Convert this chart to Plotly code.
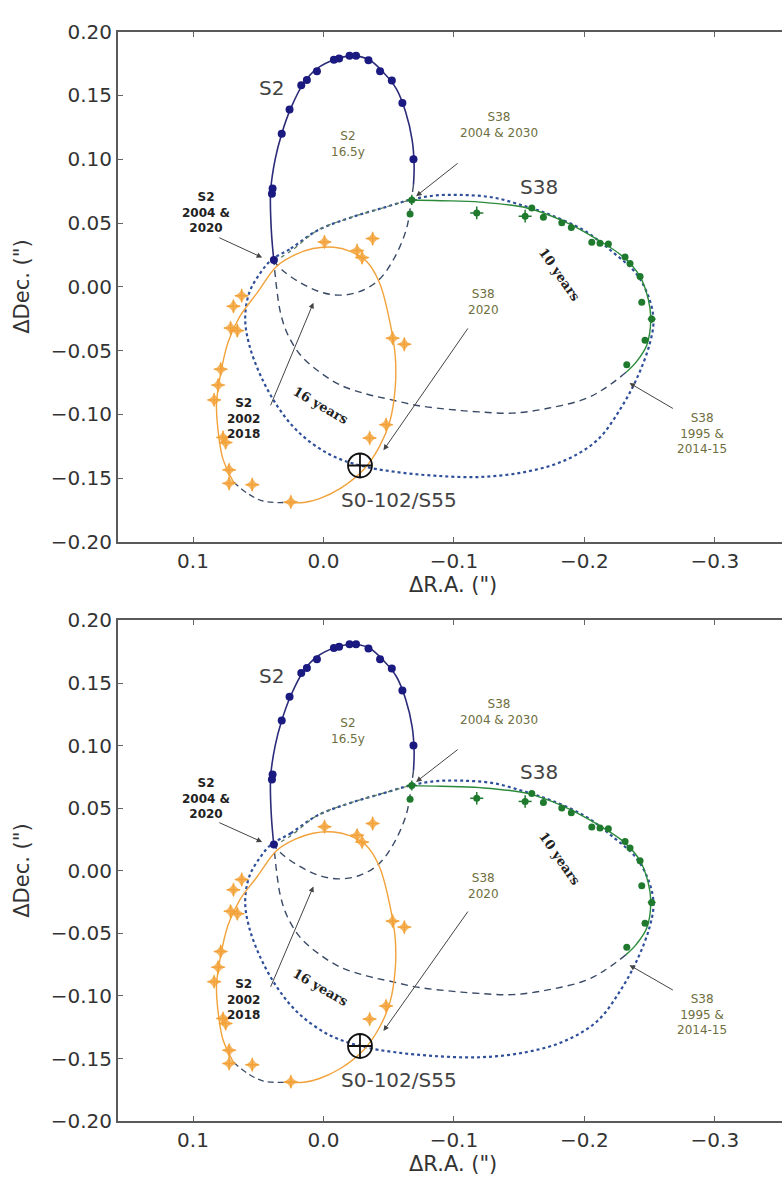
import plotly.graph_objects as go

# ---------------- data (offsets in arcsec) ----------------
# S2 observations (blue dots)
s2_obs_ra = [0.038, 0.0395, 0.039, 0.032, 0.026, 0.017, 0.0127, 0.005, -0.008, -0.012,
             -0.020, -0.025, -0.0345, -0.0434, -0.0524, -0.0605, -0.069]
s2_obs_dec = [0.021, 0.073, 0.077, 0.120, 0.139, 0.158, 0.162, 0.169, 0.178, 0.179,
              0.181, 0.181, 0.1775, 0.169, 0.1616, 0.144, 0.100]
# S2 orbit, solid (upper) part
s2_solid_ra = [0.038, 0.040, 0.0405, 0.037, 0.032, 0.025, 0.015, 0.005, -0.008, -0.022,
               -0.035, -0.046, -0.056, -0.063, -0.068, -0.0695, -0.069]
s2_solid_dec = [0.020, 0.045, 0.075, 0.100, 0.120, 0.140, 0.160, 0.171, 0.178, 0.181,
                0.178, 0.168, 0.155, 0.137, 0.115, 0.095, 0.080]
# S2 orbit, dashed (lower) part
s2_dash_ra = [-0.069, -0.067, -0.0635, -0.054, -0.042, -0.027, -0.0115, 0.004, 0.019, 0.031, 0.038]
s2_dash_dec = [0.080, 0.065, 0.045, 0.022, 0.005, -0.004, -0.0065, -0.0035, 0.004, 0.0126, 0.020]

# S38 observations (green)
s38_obs_ra = [-0.0677, -0.0664, -0.1175, -0.1546, -0.1597, -0.1686, -0.1827, -0.190, -0.2057,
              -0.212, -0.2184, -0.2312, -0.235, -0.2427, -0.244, -0.2516, -0.2465, -0.2325]
s38_obs_dec = [0.0681, 0.0571, 0.0579, 0.0554, 0.0617, 0.0546, 0.0502, 0.0464, 0.0349,
               0.0341, 0.0336, 0.0233, 0.0182, 0.0080, -0.012, -0.0253, -0.0419, -0.0611]
s38_obs_err = [0.004, 0.0015, 0.005, 0.005, 0.002, 0.0015, 0.0015, 0.002, 0.002,
               0.002, 0.002, 0.002, 0.002, 0.002, 0.0015, 0.003, 0.0015, 0.0015]
# S38 orbit, solid part
s38_solid_ra = [-0.066, -0.090, -0.120, -0.156, -0.184, -0.2095, -0.230, -0.2427, -0.249,
                -0.2509, -0.2478, -0.240, -0.232]
s38_solid_dec = [0.068, 0.0675, 0.0664, 0.0618, 0.0515, 0.0374, 0.0233, 0.008, -0.0099,
                 -0.0253, -0.0458, -0.0586, -0.067]
# S38 orbit, dashed part (lower arc)
s38_dash_ra = [-0.232, -0.215, -0.200, -0.173, -0.145, -0.119, -0.096, -0.072, -0.050,
               -0.033, -0.013, 0.004, 0.018, 0.028, 0.033, 0.036, 0.038]
s38_dash_dec = [-0.067, -0.080, -0.088, -0.095, -0.099, -0.098, -0.096, -0.093, -0.088,
                -0.084, -0.077, -0.066, -0.053, -0.036, -0.020, 0.000, 0.020]
# S38 orbit, dashed part (upper link)
s38_link_ra = [0.038, 0.025, 0.005, -0.020, -0.046, -0.066]
s38_link_dec = [0.020, 0.028, 0.044, 0.054, 0.062, 0.068]

# Orange star observations
s55_obs_ra = [-0.0008, -0.0258, -0.0296, -0.0377, 0.0627, 0.069, 0.0712, 0.066, 0.0788,
              0.0808, 0.0838, 0.077, 0.075, 0.0723, 0.0723, 0.0546, 0.025, -0.0354,
              -0.048, -0.053, -0.062]
s55_obs_dec = [0.0352, 0.0284, 0.0229, 0.0378, -0.007, -0.0152, -0.0323, -0.0343, -0.0645,
               -0.077, -0.0886, -0.118, -0.122, -0.1434, -0.154, -0.155, -0.1686, -0.1185,
               -0.108, -0.0402, -0.045]
# Orange orbit, solid part
s55_solid_ra = [0.030, 0.015, 0.003, -0.013, -0.031, -0.043, -0.051, -0.055, -0.055, -0.051,
                -0.043, -0.033, -0.020, -0.008, 0.008, 0.022, 0.036, 0.051, 0.064, 0.073,
                0.079, 0.082, 0.0805, 0.077, 0.069]
s55_solid_dec = [-0.169, -0.169, -0.166, -0.158, -0.143, -0.125, -0.105, -0.079, -0.054,
                 -0.028, 0.003, 0.020, 0.028, 0.031, 0.030, 0.025, 0.016, -0.005, -0.023,
                 -0.043, -0.069, -0.092, -0.115, -0.135, -0.153]
# Orange orbit, dashed part
s55_dash_ra = [0.069, 0.058, 0.046, 0.030]
s55_dash_dec = [-0.153, -0.162, -0.168, -0.169]

# Blue dotted orbit
dot_ra = [0.040, 0.025, 0.005, -0.020, -0.046, -0.066, -0.085, -0.105, -0.130, -0.155, -0.175,
          -0.200, -0.222, -0.240, -0.250, -0.253, -0.250, -0.241, -0.228, -0.210, -0.185,
          -0.155, -0.120, -0.085, -0.055, -0.028, -0.004, 0.019, 0.035, 0.048, 0.057,
          0.060, 0.057, 0.049, 0.040]
dot_dec = [0.021, 0.030, 0.044, 0.054, 0.062, 0.068, 0.0715, 0.072, 0.070, 0.063, 0.056,
           0.044, 0.027, 0.010, -0.010, -0.027, -0.045, -0.070, -0.095, -0.120, -0.136,
           -0.145, -0.149, -0.148, -0.145, -0.140, -0.131, -0.114, -0.094, -0.070, -0.045,
           -0.025, -0.005, 0.010, 0.021]

# Position of S0-102/S55 marker
cross_ra = [-0.028]
cross_dec = [-0.140]

# Text labels
label_text = ["S2", "S38", "S0-102/S55", "S2<br>16.5y", "S38<br>2004 & 2030",
              "<b>S2<br>2004 &<br>2020</b>", "S38<br>2020", "<b>S2<br>2002<br>2018</b>",
              "S38<br>1995 &<br>2014-15", "<b>10 years</b>", "<b>16 years</b>"]
label_ra = [0.0400, -0.165, -0.058, -0.019, -0.1346, 0.090, -0.123, 0.0615, -0.290, -0.181, 0.002]
label_dec = [0.156, 0.0786, -0.167, 0.112, 0.127, 0.058, -0.012, -0.103, -0.115, 0.0097, -0.093]
label_size = [20, 20, 20, 12, 12, 12, 12, 12, 12, 13, 13]
label_color = ["#444444", "#444444", "#444444", "#6e6e40", "#6e6e40", "#222222", "#6e6e40",
               "#222222", "#6e6e40", "#222222", "#222222"]
label_angle = [0, 0, 0, 0, 0, 0, 0, 0, 0, 55, 30]
label_font = ["DejaVu Sans"] * 9 + ["DejaVu Serif", "DejaVu Serif"]

# Arrows: head (ra, dec) and tail (ra, dec)
arrow_head_ra = [-0.071, 0.047, -0.046, 0.0077, -0.2346]
arrow_head_dec = [0.071, 0.023, -0.128, -0.0125, -0.0754]
arrow_tail_ra = [-0.104, 0.081, -0.1115, 0.041, -0.269]
arrow_tail_dec = [0.0977, 0.039, -0.0314, -0.094, -0.096]

# Axis ticks
x_ticks = [0.1, 0.0, -0.1, -0.2, -0.3]
x_tick_text = ["0.1", "0.0", "\u22120.1", "\u22120.2", "\u22120.3"]
y_ticks = [0.20, 0.15, 0.10, 0.05, 0.0, -0.05, -0.10, -0.15, -0.20]
y_tick_text = ["0.20", "0.15", "0.10", "0.05", "0.00", "\u22120.05", "\u22120.10",
               "\u22120.15", "\u22120.20"]

# ---------------- layout geometry (pixels) ----------------
W, H = 782, 1186
PLOT_LEFT = 118
panels_px = [(20, 541), (621, 1132)]  # (top, bottom) of each panel
X_RANGE = [0.1575, -0.3515]
Y_RANGE = [-0.2, 0.2]

S2_COL = "#1a1a80"
S38_COL = "#2a8a3a"
ORANGE = "#f2a23a"
DASH_COL = "#3a4a66"
DOT_COL = "#2f4f9a"

fig = go.Figure()
annotations = []
FONT = "DejaVu Sans"

for i, (top, bot) in enumerate(panels_px):
    xa = "x" if i == 0 else "x2"
    ya = "y" if i == 0 else "y2"
    common = dict(xaxis=xa, yaxis=ya, showlegend=False, hoverinfo="skip")

    # orbits
    fig.add_trace(go.Scatter(x=dot_ra, y=dot_dec, mode="lines",
                             line=dict(color=DOT_COL, width=2.2, dash="dot", shape="spline", smoothing=1),
                             **common))
    fig.add_trace(go.Scatter(x=s38_dash_ra, y=s38_dash_dec, mode="lines",
                             line=dict(color=DASH_COL, width=1.4, dash="7px,5px", shape="spline", smoothing=1),
                             **common))
    fig.add_trace(go.Scatter(x=s38_link_ra, y=s38_link_dec, mode="lines",
                             line=dict(color="#5a7a5a", width=1.2, dash="4px,4px", shape="spline", smoothing=1),
                             **common))
    fig.add_trace(go.Scatter(x=s2_dash_ra, y=s2_dash_dec, mode="lines",
                             line=dict(color=DASH_COL, width=1.4, dash="7px,5px", shape="spline", smoothing=1),
                             **common))
    fig.add_trace(go.Scatter(x=s55_dash_ra, y=s55_dash_dec, mode="lines",
                             line=dict(color=DASH_COL, width=1.3, dash="6px,4px", shape="spline", smoothing=1),
                             **common))
    fig.add_trace(go.Scatter(x=s2_solid_ra, y=s2_solid_dec, mode="lines",
                             line=dict(color="#2c2c7a", width=1.6, shape="spline", smoothing=1),
                             **common))
    fig.add_trace(go.Scatter(x=s38_solid_ra, y=s38_solid_dec, mode="lines",
                             line=dict(color=S38_COL, width=1.4, shape="spline", smoothing=1),
                             **common))
    fig.add_trace(go.Scatter(x=s55_solid_ra, y=s55_solid_dec, mode="lines",
                             line=dict(color=ORANGE, width=1.4, shape="spline", smoothing=1),
                             **common))

    # observations
    fig.add_trace(go.Scatter(x=s55_obs_ra, y=s55_obs_dec, mode="markers",
                             marker=dict(symbol="star-diamond", size=11, color=ORANGE, opacity=0.8,
                                         line=dict(width=0)),
                             error_x=dict(type="constant", value=0.005, color=ORANGE, thickness=1.5, width=0),
                             error_y=dict(type="constant", value=0.005, color=ORANGE, thickness=1.5, width=0),
                             **common))
    fig.add_trace(go.Scatter(x=s38_obs_ra, y=s38_obs_dec, mode="markers",
                             marker=dict(symbol="circle", size=7, color="#1f7a2e"),
                             error_x=dict(type="data", array=s38_obs_err, color="#1f7a2e", thickness=1.5, width=0),
                             error_y=dict(type="data", array=s38_obs_err, color="#1f7a2e", thickness=1.5, width=0),
                             **common))
    fig.add_trace(go.Scatter(x=s2_obs_ra, y=s2_obs_dec, mode="markers",
                             marker=dict(symbol="circle", size=8, color=S2_COL),
                             error_x=dict(type="constant", value=0.002, color=S2_COL, thickness=1.2, width=0),
                             error_y=dict(type="constant", value=0.002, color=S2_COL, thickness=1.2, width=0),
                             **common))
    fig.add_trace(go.Scatter(x=cross_ra, y=cross_dec, mode="markers",
                             marker=dict(symbol="circle-cross-open", size=24, color="#111111",
                                         line=dict(width=1.8, color="#111111")),
                             **common))

    # text labels
    for t, xr, yd, s, c, ang, fnt in zip(label_text, label_ra, label_dec, label_size,
                                         label_color, label_angle, label_font):
        annotations.append(dict(text=t, x=xr, y=yd, xref=xa, yref=ya, showarrow=False,
                                xanchor="center", yanchor="middle",
                                textangle=ang, font=dict(size=s, color=c, family=fnt)))
    # arrows
    for hx, hy, tx, ty in zip(arrow_head_ra, arrow_head_dec, arrow_tail_ra, arrow_tail_dec):
        annotations.append(dict(text="", x=hx, y=hy, ax=tx, ay=ty, xref=xa, yref=ya,
                                axref=xa, ayref=ya, showarrow=True, arrowhead=2,
                                arrowsize=1.1, arrowwidth=1, arrowcolor="#444444"))
    # axis titles
    annotations.append(dict(text="\u0394R.A. (\")", x=-0.099, xref=xa,
                            y=1 - (bot + 44) / H, yref="paper", showarrow=False,
                            xanchor="center", yanchor="middle",
                            font=dict(size=21, color="#333333", family=FONT)))
    annotations.append(dict(text="\u0394Dec. (\")", x=22 / W, xref="paper",
                            y=1 - (top + bot) / 2 / H, yref="paper", showarrow=False,
                            xanchor="center", yanchor="middle",
                            textangle=-90, font=dict(size=21, color="#333333", family=FONT)))

axis_style = dict(showgrid=False, zeroline=False, showline=True, linecolor="#5a5a5a",
                  linewidth=2, ticks="inside", ticklen=5, tickcolor="#666666", tickwidth=1,
                  tickfont=dict(size=20, color="#333333", family=FONT))

layout = dict(width=W, height=H, margin=dict(l=0, r=0, t=0, b=0),
              plot_bgcolor="white", paper_bgcolor="white", annotations=annotations)
for i, (top, bot) in enumerate(panels_px):
    sx = "xaxis" if i == 0 else "xaxis2"
    sy = "yaxis" if i == 0 else "yaxis2"
    ya = "y" if i == 0 else "y2"
    xa = "x" if i == 0 else "x2"
    layout[sx] = dict(domain=[PLOT_LEFT / W, 1], range=X_RANGE, anchor=ya,
                      tickvals=x_ticks, ticktext=x_tick_text, mirror="ticks", **axis_style)
    layout[sy] = dict(domain=[1 - bot / H, 1 - top / H], range=Y_RANGE, anchor=xa,
                      tickvals=y_ticks, ticktext=y_tick_text, mirror=False, **axis_style)

fig.update_layout(**layout)
fig.write_html("out.html")
